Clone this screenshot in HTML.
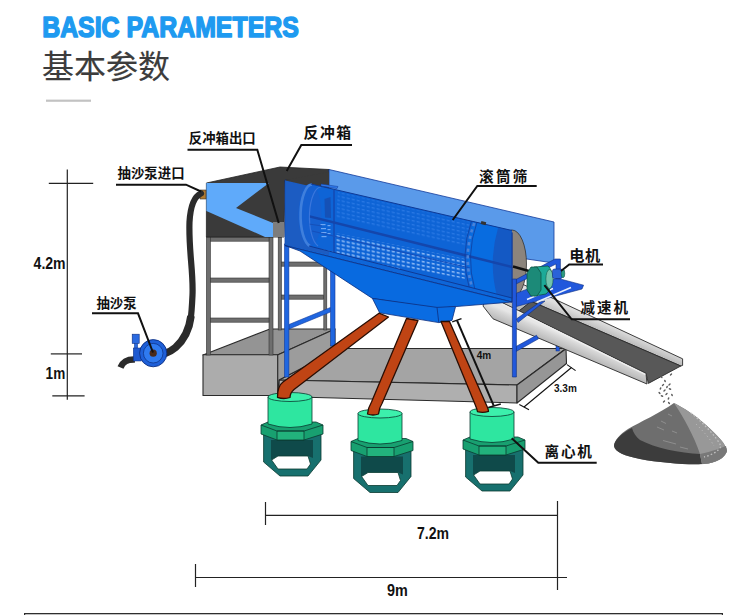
<!DOCTYPE html>
<html lang="zh">
<head>
<meta charset="utf-8">
<title>基本参数</title>
<style>
html,body{margin:0;padding:0;background:#fff;}
body{width:750px;height:615px;overflow:hidden;position:relative;font-family:"Liberation Sans","Noto Sans CJK SC",sans-serif;}
svg{position:absolute;left:0;top:0;display:block;}
.lb{font-family:"Liberation Sans","Noto Sans CJK SC",sans-serif;font-weight:bold;fill:#111;}
.dm{font-family:"Liberation Sans",sans-serif;font-weight:bold;fill:#111;}
</style>
</head>
<body>
<svg width="750" height="615" viewBox="0 0 750 615">
<!-- HEADER -->
<g id="header">
<text x="42.2" y="37.3" font-family="'Liberation Sans',sans-serif" font-weight="bold" font-size="29.6" fill="#1e9af0" stroke="#1e9af0" stroke-width="1.6" stroke-linejoin="round" textLength="256.6" lengthAdjust="spacingAndGlyphs">BASIC PARAMETERS</text>
<text x="42" y="78" font-family="'Liberation Sans','Noto Sans CJK SC',sans-serif" font-weight="400" font-size="32" fill="#3c3c3c" stroke="#3c3c3c" stroke-width="0.15">基本参数</text>
<rect x="46" y="99.6" width="45" height="2.2" fill="#c2c2c2"/>
</g>

<!-- LEFT DIMENSIONS -->
<g id="dimleft" stroke="#222" stroke-width="1.2" fill="none">
<line x1="67.3" y1="169.6" x2="67.3" y2="399.8" stroke-width="1.2"/>
<line x1="48.8" y1="183.4" x2="93.2" y2="183.4"/>
<line x1="50.8" y1="353.9" x2="82" y2="353.9"/>
<line x1="52.3" y1="395.9" x2="84.6" y2="395.9"/>
</g>
<text class="dm" x="33.6" y="268.8" font-size="16" textLength="32" lengthAdjust="spacingAndGlyphs">4.2m</text>
<text class="dm" x="45.6" y="378.7" font-size="16" textLength="19.6" lengthAdjust="spacingAndGlyphs">1m</text>

<!-- PLATFORM -->
<g id="platform" stroke="#2a2a2a" stroke-width="1.1" stroke-linejoin="round">
<!-- main slab -->
<polygon points="279,380 340,348.5 566,348.5 517,385" fill="#a4a4a4"/>
<polygon points="279,380 517,385 517,403 279,396.5" fill="#afafaf"/>
<polygon points="517,385 566,348.7 566.5,363.5 517,403" fill="#969696"/>
<!-- left block -->
<polygon points="203,355 277.5,355 335,329 270,329" fill="#949494"/>
<polygon points="277.5,355 335,329 335,351 279,380 277.5,395.5" fill="#9c9c9c"/>
<rect x="203" y="354.8" width="74.7" height="40.7" fill="#acacac"/>
</g>

<!-- FRAMES -->
<g id="frames">
<!-- back gray frame -->
<g fill="#6e6e6e" stroke="#333" stroke-width="0.6">
<rect x="278.2" y="237" width="3.2" height="93"/>
<rect x="323.8" y="262" width="3" height="68"/>
<rect x="281.6" y="262" width="42" height="4.2"/>
<rect x="281.6" y="295" width="42" height="4.2"/>
</g>
<!-- front gray frame -->
<g fill="#6e6e6e" stroke="#333" stroke-width="0.6">
<rect x="206.4" y="237" width="4" height="118"/>
<rect x="269" y="237" width="4" height="118"/>
<rect x="210.4" y="237" width="58.6" height="4.2"/>
<rect x="210.4" y="278" width="58.6" height="4.2"/>
<rect x="210.4" y="318" width="58.6" height="4.2"/>
</g>
<!-- blue frame -->
<g fill="#1f66e0" stroke="#123a9a" stroke-width="0.6">
<polygon points="289,324.5 330.4,307.5 330.4,312 289,329"/>
<rect x="284.5" y="244" width="4.4" height="133"/>
<rect x="330.6" y="268" width="4.4" height="78"/>
</g>
</g>

<!-- BOX -->
<g id="box" stroke-linejoin="round">
<polygon points="206.4,183 280,167 329,169.5 329,182 285,180 284,237 206.4,237" fill="#3a3a3a" stroke="#222" stroke-width="0.8"/>
<polygon points="206.4,183 269,183 236,208 273,223 273,237 265,237 206.4,211" fill="#5faafa"/>
<rect x="273" y="222" width="11" height="15" fill="#7d7d7d"/>
<rect x="200" y="190" width="6" height="9" fill="#b07a30" stroke="#333" stroke-width="0.6"/>
</g>

<rect x="556" y="343" width="3.4" height="8" fill="#2158dc" stroke="#0d2f80" stroke-width="0.5"/>
<!-- CHUTE -->
<defs>
<linearGradient id="gnear" gradientUnits="userSpaceOnUse" x1="580" y1="342" x2="574.5" y2="355">
<stop offset="0" stop-color="#e6e6e6"/><stop offset="0.25" stop-color="#d6d6d6"/><stop offset="1" stop-color="#b2b2b2"/>
</linearGradient>
<linearGradient id="gfar" gradientUnits="userSpaceOnUse" x1="620" y1="329.5" x2="616.5" y2="338">
<stop offset="0" stop-color="#dedede"/><stop offset="1" stop-color="#bcbcbc"/>
</linearGradient>
</defs>
<g id="chute" stroke="#2a2a2a" stroke-width="0.9" stroke-linejoin="round">
<polygon points="487,295.2 517,281.6 682.6,358.8 682.6,365.4 680.8,366 532,301.7 519,311.0" fill="url(#gfar)"/>
<polygon points="531,301.3 680.8,366 648.4,383.4 646,373.5 519,311.0" fill="#585858"/>
<polygon points="483,306 487,295.2 646,373.5 647,384 493,318.8" fill="url(#gnear)"/>
<line x1="500" y1="302.8" x2="645.3" y2="374.4" stroke="#eeeeee" stroke-width="1.4"/>
</g>

<!-- HOUSING BACK FACE -->
<polygon points="329,169.5 554,222 554,263 520,258 329,250" fill="#5a9aea" stroke="#123a9a" stroke-width="0.8"/>

<!-- DRUM END (gray) -->
<ellipse cx="512" cy="264" rx="14.5" ry="34" fill="#8c847c" stroke="#333" stroke-width="0.8"/>

<!-- HOUSING FRONT FACE -->
<polygon points="285,180 512,232.5 512,302 285,245.5" fill="#0e66d8" stroke="#123a9a" stroke-width="0.8"/>
<!-- box seen through the front face -->
<polygon points="285.5,180.5 329,190.5 329,255 285.5,245" fill="#1c5cc2"/>
<polygon points="329,172 329,190.5 285.5,180.5 285.5,180" fill="#3a3a3a"/>

<!-- DRUM (seen through front face) -->
<defs>
<pattern id="mesh" width="5" height="4" patternUnits="userSpaceOnUse" patternTransform="translate(336,234) skewY(11.6)">
<rect x="0.6" y="1.2" width="3.2" height="1.3" fill="#a8ccfc"/>
</pattern>
<pattern id="mesh2" width="5" height="4" patternUnits="userSpaceOnUse" patternTransform="translate(336,190) skewY(12.5)">
<rect x="0.6" y="1.2" width="3.2" height="1.1" fill="#2f7ce6"/>
</pattern>
<clipPath id="drumclip"><polygon points="311,184 512,230.5 512,298 309,246"/></clipPath>
</defs>
<g id="drum">
<polygon points="311,184 512,230.5 512,298 309,246" fill="#0e64d6"/>
<ellipse cx="310" cy="215" rx="11.5" ry="31" fill="#1660d0"/>
<path d="M312,184.5 A11.5,31 0 0 0 310,246" fill="none" stroke="#3f7fdc" stroke-width="2.6"/>
<path d="M321,187 A11.5,30 0 0 0 318,246" fill="none" stroke="#3a76dc" stroke-width="1.2"/>
<g clip-path="url(#drumclip)">
<!-- solid right section -->
<path d="M474,221 Q462,255 472,289 L512,299 L512,230 Z" fill="#086ce0"/>
<path d="M498,228 Q488,262 497,296 L512,299 L512,230 Z" fill="#1459c4"/>
<!-- upper faint mesh -->
<polygon points="338,192 470,222 466,246 336,218" fill="url(#mesh2)"/>
<!-- lower mesh band -->
<polygon points="336,233 465,259 465,279 336,254" fill="url(#mesh)"/>
<polygon points="322,249 400,267 400,270 322,252" fill="url(#mesh)" opacity="0.8"/>
<polygon points="324.5,199 330.5,197 331,218 325,217.5" fill="#164db0" opacity="0.85"/>
<g fill="#6fa6f2">
<rect x="320.5" y="224" width="5" height="1.2"/><rect x="321" y="228" width="5" height="1.2"/><rect x="321" y="232" width="5.5" height="1.2"/><rect x="321.5" y="236" width="5" height="1.2"/>
<rect x="327.5" y="225" width="3" height="1.2"/><rect x="327.5" y="229" width="3" height="1.2"/><rect x="327.5" y="233" width="3" height="1.2"/>
<rect x="321" y="249.5" width="2" height="1.6"/><rect x="327.5" y="251" width="2.4" height="1.6"/>
</g>
<line x1="296" y1="222" x2="322" y2="226" stroke="#1650b8" stroke-width="1.2"/>
<!-- vertical bar at left of mesh -->
<line x1="334" y1="190" x2="334" y2="253" stroke="#154bb4" stroke-width="1.6"/>
<!-- shaft -->
<line x1="296" y1="213" x2="512" y2="267" stroke="#1446ac" stroke-width="2.6"/>
<line x1="312" y1="231" x2="470" y2="268" stroke="#1650bc" stroke-width="1.2"/>
<!-- hole ring -->
<path d="M477,222 Q465,256 475,290" fill="none" stroke="#123f9e" stroke-width="0.8"/>
<path d="M471.5,221 Q459.5,255 469.5,289" fill="none" stroke="#123f9e" stroke-width="0.8"/>
<path d="M474.3,223 Q462.3,256 472.3,288" fill="none" stroke="#4b82d8" stroke-width="2.6" stroke-dasharray="3.2 3.4"/>
</g>
<!-- drum edges -->
<line x1="311" y1="184" x2="512" y2="230.5" stroke="#0f3a96" stroke-width="1"/>
<line x1="309" y1="246" x2="512" y2="298" stroke="#0f3a96" stroke-width="1"/>
<polygon points="321,184 338,186.5 337,188.5 321,186" fill="#2f78ea" stroke="#0f3a96" stroke-width="0.5"/>
<rect x="481" y="221.5" width="5" height="3" fill="#333" transform="rotate(13 483 223)"/>
</g>
<line x1="512" y1="232.5" x2="512" y2="302" stroke="#123a9a" stroke-width="1"/>

<!-- HOPPER -->
<g id="hopper" stroke="#0d2f80" stroke-width="0.8" stroke-linejoin="round">
<polygon points="285,245.5 512,302 455.6,306.6 437,308.6 372.4,298.4 300,251" fill="#086ae0"/>
<polygon points="372.4,298.4 437,307.4 455.6,306.4 452,320.4 438.8,322.6 379.6,312.8" fill="#0a6ce2"/>
<line x1="437" y1="307.4" x2="438.8" y2="322.6"/>
</g>

<!-- CENTRIFUGES -->
<defs>
<g id="cf" stroke="#0a3a30" stroke-width="0.8" stroke-linejoin="round">
<!-- base -->
<polygon points="263.6,434 321,434 321,460 308,476 280,476 263.6,462" fill="#17706e"/>
<polygon points="271,440 313,440 313,458 308,456 278,456 271,460" fill="#0f4a4a" stroke="none"/>
<polygon points="271.6,460 278,456 308,456 310.5,464 307,469 278,469" fill="#fff"/>
<!-- flange -->
<polygon points="261,425 268,422 316,422 323,425 323,434 304,440 277,440 261,434" fill="#18a070"/>
<polygon points="277,431 304,431 304,440 277,440" fill="#22b27c"/>
<polyline points="261,425 277,431 304,431 323,425" fill="none"/>
<!-- cylinder -->
<path d="M268,397 L268,424 Q290,431 312,424 L312,397 Z" fill="#2ee6a0"/>
<ellipse cx="290" cy="397" rx="22" ry="4.5" fill="#3cf0ac"/>
</g>
</defs>
<use href="#cf"/>
<use href="#cf" transform="translate(90,16.5)"/>
<use href="#cf" transform="translate(202,15)"/>
<!-- LEGS -->
<g id="legs" fill="#c04414" stroke="#2a0e04" stroke-width="1.3" stroke-linejoin="round">
<path d="M379,313.2 L283,382 Q277.5,386 277.5,397.3 Q283.5,399.6 290,397.5 Q290,393 294,389.5 L388.5,317 Z"/>
<path d="M406.5,318.5 L371.5,402 Q368,408 367.5,414 Q373,416 378.5,414 Q379,408 382,403.5 L418,320.5 Z"/>
<path d="M441,321.5 L449.5,321.5 L487.5,407.5 Q488.3,409.5 488.5,411.3 Q483,413.3 477.5,411.6 Q477,409 475.3,405 Z"/>
</g>


<!-- BRACKET + MOTOR -->
<g id="bracket">
<g fill="#2158dc" stroke="#0d2f80" stroke-width="0.6" stroke-linejoin="round">
<polygon points="516,346.5 536.5,335.3 538.5,338.8 516,351.5"/>

<polygon points="516,279.5 555,259 560.4,259 560.4,279 556,281 556,264 516,284"/>
<polygon points="516.4,293.2 554.8,278.8 560.4,279 583.6,285.2 582,289 516.4,306.5"/>
<polygon points="540,302 545,301 518,322.5 516.4,319"/>
<rect x="512.4" y="279" width="4" height="98"/>
</g>
<line x1="527" y1="299.5" x2="553" y2="288.5" stroke="#e8f0ff" stroke-width="1.6"/>
<line x1="537" y1="302" x2="571" y2="287.5" stroke="#e8f0ff" stroke-width="1.6"/>
<line x1="513" y1="266.5" x2="536" y2="273" stroke="#111" stroke-width="2.4"/>
<!-- reducer -->
<path d="M534,267 L548,266 Q553,270 552,280 Q551,290 546,294 L534,296 Z" fill="#1caa98" stroke="#0a4a3a" stroke-width="0.7"/>
<ellipse cx="549.5" cy="279" rx="3.6" ry="9.5" fill="#72c4ac" stroke="#0a4a3a" stroke-width="0.5"/>
<polygon points="531,267 537,267 541,273 541,290 537,296 531,296 527,290 527,273" fill="#1c8a78" stroke="#0a4a3a" stroke-width="0.7"/>
<!-- motor -->
<rect x="552.5" y="269" width="10" height="9.5" rx="2" fill="#2a62d8" stroke="#0d2f80" stroke-width="0.6"/>
<ellipse cx="563" cy="273.5" rx="1.8" ry="4.2" fill="#2a9a80" stroke="#0a4a3a" stroke-width="0.5"/>
</g>

<!-- SAND PILE -->
<g id="pile">
<path d="M674,403 C660,413 640,422 628,429 C620,434 614,441 614,446 C615,452 625,456 640,459 C660,463 690,465 704,464 C716,463 725,458 727,451 C726,444 718,436 706,425 C695,415 684,408 674,403 Z" fill="#6e6e6e"/>
<path d="M632,428 C620,434 614,441 614,446 C615,452 625,456 640,459 C660,463 690,465 702,464 L700,454 C680,453 655,448 640,440 C636,437 633,432 632,428 Z" fill="#3c3c3c"/>
<path d="M674,403 C684,408 695,415 706,425 C718,436 726,444 727,451 C725,458 716,463 704,464 L702,464 L700,454 C694,436 684,418 674,403 Z" fill="#989898"/>
<path d="M700,454 C712,452 722,447 726,446 L727,451 C725,458 716,463 704,464 L702,464 Z" fill="#787878"/>
<path d="M691,413 C702,422 716,436 721,446 C719,451 712,455 704,457" fill="none" stroke="#c2c2c2" stroke-width="1.3" stroke-dasharray="1.6 2.2"/>
<path d="M696,424 C704,432 711,440 714,446" fill="none" stroke="#b4b4b4" stroke-width="1" stroke-dasharray="1.4 2.6"/>
<g stroke="#8e8e8e" stroke-width="1" fill="none">
<line x1="657" y1="427" x2="664" y2="430"/><line x1="661" y1="421" x2="666" y2="423.5"/>
<line x1="663" y1="440.5" x2="676" y2="444"/><line x1="668" y1="414" x2="672" y2="416"/>
<line x1="680" y1="447" x2="688" y2="449"/><line x1="672" y1="431" x2="677" y2="433"/>
</g>
<g fill="#5a5a5a"><ellipse cx="663" cy="372" rx="1.4" ry="0.8" transform="rotate(50 663 372)"/><ellipse cx="667.5" cy="370.5" rx="1.4" ry="0.8" transform="rotate(140 667.5 370.5)"/><ellipse cx="671" cy="374.5" rx="1.4" ry="0.8" transform="rotate(140 671 374.5)"/><ellipse cx="661.5" cy="377" rx="1.4" ry="0.8" transform="rotate(50 661.5 377)"/><ellipse cx="665" cy="381" rx="1.4" ry="0.8" transform="rotate(70 665 381)"/><ellipse cx="669.5" cy="384.5" rx="1.4" ry="0.8" transform="rotate(140 669.5 384.5)"/><ellipse cx="660.5" cy="388.5" rx="1.4" ry="0.8" transform="rotate(110 660.5 388.5)"/><ellipse cx="664.5" cy="390.5" rx="1.4" ry="0.8" transform="rotate(140 664.5 390.5)"/><ellipse cx="670" cy="389" rx="1.4" ry="0.8" transform="rotate(20 670 389)"/><ellipse cx="666.5" cy="394" rx="1.4" ry="0.8" transform="rotate(140 666.5 394)"/><ellipse cx="662" cy="396" rx="1.4" ry="0.8" transform="rotate(20 662 396)"/><ellipse cx="668.5" cy="398.5" rx="1.4" ry="0.8" transform="rotate(110 668.5 398.5)"/><ellipse cx="672" cy="395" rx="1.4" ry="0.8" transform="rotate(70 672 395)"/><ellipse cx="664" cy="401.5" rx="1.4" ry="0.8" transform="rotate(140 664 401.5)"/><ellipse cx="669" cy="403" rx="1.4" ry="0.8" transform="rotate(50 669 403)"/><ellipse cx="659.5" cy="393" rx="1.4" ry="0.8" transform="rotate(50 659.5 393)"/><ellipse cx="667" cy="387" rx="1.4" ry="0.8" transform="rotate(110 667 387)"/><ellipse cx="663" cy="385" rx="1.4" ry="0.8" transform="rotate(140 663 385)"/></g>
</g>

<!-- PUMP & HOSE -->
<g id="pump">
<path d="M201,193.5 C195,196 190.5,205 189.5,222 C188.5,250 193.5,272 192.5,295 C192,306 191.5,314 190.5,320" fill="none" stroke="#2b2b2b" stroke-width="6.2" stroke-linecap="round"/>
<path d="M191,316 C189.5,328 185,339 175.5,347.5 C172,350.5 169,352 165,353.5" fill="none" stroke="#2b2b2b" stroke-width="7.6" stroke-linecap="butt"/>
<path d="M135,359.5 C127,359.2 123,361.5 120.5,367.5" fill="none" stroke="#2b2b2b" stroke-width="6.4"/>
<rect x="132.2" y="334.2" width="7" height="9.2" fill="#2a6ae0" stroke="#0d2f80" stroke-width="0.6"/>
<rect x="134.3" y="343.4" width="3.4" height="5" fill="#2a6ae0" stroke="#0d2f80" stroke-width="0.4"/>
<rect x="133.3" y="348" width="8" height="13" fill="#1f5ad0" stroke="#0d2f80" stroke-width="0.5"/>
<circle cx="153.2" cy="353.2" r="13.6" fill="#1e5fd8" stroke="#0d2f80" stroke-width="0.9"/>
<circle cx="153.2" cy="353.2" r="9.8" fill="#2f7af0" stroke="#0d2f80" stroke-width="0.7"/>
<circle cx="153.2" cy="353.2" r="3.6" fill="#4a2a1a"/>
</g>

<!-- LABELS -->
<g id="labels" stroke="#111" stroke-width="2" fill="none" stroke-linejoin="miter">
<polyline points="116,184.7 186,184.7 201,191.5"/>
<polyline points="92,313.3 138,313.3 153,352.5"/>
<polyline points="187.5,149.7 257.3,149.7 278.7,223"/>
<polyline points="352,145 301.3,145 286.7,171"/>
<polyline points="536.7,186 477.3,186 452.7,220"/>
<polyline points="603,264.5 569.2,264.5 561,271"/>
<polyline points="630,319.3 571.7,319.3 544.4,285.2"/>
<polyline points="596.7,462.7 538.3,462.7 511.7,438.3"/>
</g>
<text class="lb" x="117.6" y="177.6" font-size="13.4">抽沙泵进口</text>
<text class="lb" x="96.4" y="307.6" font-size="13.4">抽沙泵</text>
<text class="lb" x="188.8" y="143.4" font-size="13.4">反冲箱出口</text>
<text class="lb" x="303.5" y="138" font-size="14.8" letter-spacing="1.6">反冲箱</text>
<text class="lb" x="479" y="182.3" font-size="14.6" letter-spacing="2.3">滚筒筛</text>
<text class="lb" x="569.3" y="260.7" font-size="15.2" letter-spacing="0.6">电机</text>
<text class="lb" x="580.5" y="313.3" font-size="14.5" letter-spacing="2">减速机</text>
<text class="lb" x="544.6" y="457.2" font-size="14.6" letter-spacing="1.7">离心机</text>

<!-- 4m / 3.3m -->
<g stroke="#111" fill="none">
<line x1="457" y1="320.4" x2="493.7" y2="405.7" stroke-width="2"/>
<line x1="452.2" y1="321.8" x2="461.5" y2="318.6" stroke-width="1.4"/>
<line x1="488.3" y1="407.5" x2="500.8" y2="404" stroke-width="1.4"/>
<line x1="524" y1="407" x2="571.5" y2="367.5" stroke-width="1.1"/>
<line x1="519.3" y1="404.4" x2="529" y2="409.7" stroke-width="1.1"/>
<line x1="567" y1="364.6" x2="575.6" y2="370.6" stroke-width="1.1"/>
</g>
<text class="dm" x="476.8" y="358.9" font-size="10">4m</text>
<text class="dm" x="554" y="392" font-size="10">3.3m</text>

<!-- BOTTOM DIMENSIONS -->
<g stroke="#222" stroke-width="1.2" fill="none">
<line x1="265.5" y1="502" x2="265.5" y2="525"/>
<line x1="265" y1="515.3" x2="557" y2="515.3"/>
<line x1="557.5" y1="501" x2="557.5" y2="590"/>
<line x1="195.5" y1="564" x2="195.5" y2="587"/>
<line x1="195" y1="577.5" x2="567" y2="577.5"/>
</g>
<text class="dm" x="417" y="539.1" font-size="16" textLength="32" lengthAdjust="spacingAndGlyphs">7.2m</text>
<text class="dm" x="387" y="595.9" font-size="16" textLength="20.8" lengthAdjust="spacingAndGlyphs">9m</text>

<!-- bottom border -->
<rect x="24" y="613" width="699" height="1.3" fill="#2e2e2e"/>
<rect x="24" y="613" width="1.2" height="2" fill="#2e2e2e"/>
<rect x="721.8" y="613" width="1.2" height="2" fill="#2e2e2e"/>
</svg>
</body>
</html>
